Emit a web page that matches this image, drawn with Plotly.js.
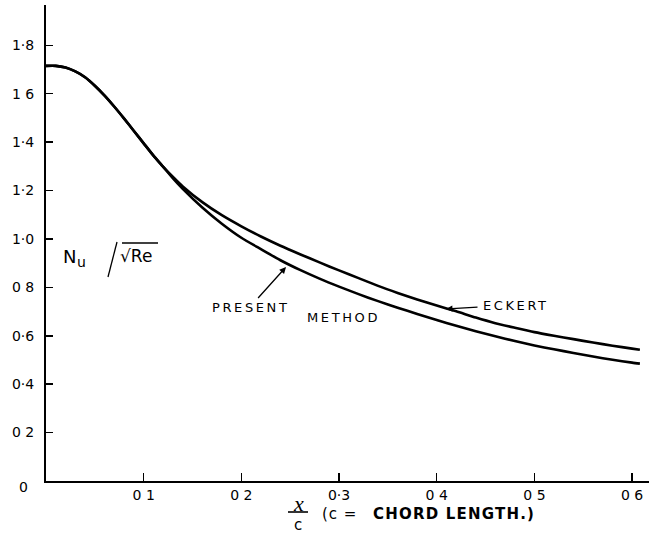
<!DOCTYPE html>
<html>
<head>
<meta charset="utf-8">
<script src="https://cdn.plot.ly/plotly-3.0.1.min.js"></script>
<style>html,body{margin:0;padding:0;background:#fff;}#chart{width:649px;height:538px;}</style>
</head>
<body>
<div id="chart"></div>
<script>
// x / c positions
const xShared = [0.00, 0.01, 0.02, 0.03, 0.04, 0.05, 0.06, 0.07, 0.08, 0.09, 0.10, 0.11, 0.12];
const yShared = [1.715, 1.715, 1.708, 1.692, 1.668, 1.633, 1.592, 1.546, 1.497, 1.446, 1.395, 1.344, 1.298];

const xTail = [0.13, 0.14, 0.16, 0.18, 0.20, 0.22, 0.24, 0.26, 0.28, 0.30, 0.32, 0.34, 0.36, 0.38, 0.40, 0.42, 0.44, 0.46, 0.48, 0.50, 0.52, 0.54, 0.56, 0.58, 0.60, 0.608];
const eckertTail = [1.256, 1.217, 1.152, 1.098, 1.052, 1.010, 0.972, 0.937, 0.903, 0.870, 0.838, 0.806, 0.777, 0.750, 0.725, 0.701, 0.675, 0.652, 0.633, 0.615, 0.600, 0.586, 0.572, 0.559, 0.547, 0.542];
const presentTail = [1.250, 1.207, 1.130, 1.063, 1.005, 0.958, 0.912, 0.872, 0.836, 0.803, 0.772, 0.743, 0.716, 0.690, 0.665, 0.641, 0.619, 0.598, 0.578, 0.560, 0.544, 0.529, 0.514, 0.501, 0.489, 0.485];

const xTickVals = [0.1, 0.2, 0.3, 0.4, 0.5, 0.6];
const xTickText = ["0 1", "0 2", "0·3", "0 4", "0 5", "0 6"];
const yTickVals = [0.2, 0.4, 0.6, 0.8, 1.0, 1.2, 1.4, 1.6, 1.8];
const yTickText = ["0 2", "0·4", "0·6", "0 8", "1·0", "1·2", "1·4", "1 6", "1·8"];

const xEckert = xShared.concat(xTail);
const yEckert = yShared.concat(eckertTail);
const xPresent = xShared.concat(xTail);
const yPresent = yShared.concat(presentTail);

// layout geometry (pixels)
const W = 649, H = 538, ML = 46, MR = 0, MT = 5, MB = 57;
const PW = W - ML - MR, PH = H - MT - MB;
const px = v => (v - ML) / PW;
const py = v => (H - MB - v) / PH;

const lineStyle = {color: "#000", width: 2.6, shape: "spline", smoothing: 0.6};
const traces = [
  {x: xEckert, y: yEckert, mode: "lines", line: lineStyle, name: "Eckert", hoverinfo: "skip"},
  {x: xPresent, y: yPresent, mode: "lines", line: lineStyle, name: "Present method", hoverinfo: "skip"}
];

const labFont = {family: "DejaVu Sans", size: 13, color: "#000"};
const ann = (x, y, text, font, extra) => Object.assign({xref: "paper", yref: "paper", x: px(x), y: py(y), text: text, showarrow: false, font: font, xanchor: "center", yanchor: "middle"}, extra || {});

const annotations = [
  ann(23, 487, "0", {family: "DejaVu Sans", size: 14, color: "#000"}),
  // labels with arrows (x,y = arrow head; ax,ay = text centre)
  {xref: "paper", yref: "paper", x: px(286), y: py(267), ax: px(250), ay: py(307), axref: "paper", ayref: "paper",
   text: "<span style='letter-spacing:2.6px'>PRESENT</span>", font: labFont,
   showarrow: true, arrowhead: 2, arrowsize: 1, arrowwidth: 1.3, arrowcolor: "#000"},
  ann(343, 317, "<span style='letter-spacing:2.6px'>METHOD</span>", labFont),
  {xref: "paper", yref: "paper", x: px(446), y: py(309), ax: px(516), ay: py(305), axref: "paper", ayref: "paper",
   text: "<span style='letter-spacing:2.6px'>ECKERT</span>", font: labFont,
   showarrow: true, arrowhead: 2, arrowsize: 1, arrowwidth: 1.3, arrowcolor: "#000", startstandoff: 4},
  // y label
  ann(69, 256, "N", {family: "DejaVu Sans", size: 18, color: "#000"}),
  ann(81, 262, "u", {family: "DejaVu Sans", size: 14, color: "#000"}),
  ann(136, 256, "√Re", {family: "DejaVu Sans", size: 17, color: "#000"}),
  // x label
  ann(298, 503, "x", {family: "Liberation Serif", size: 22, color: "#000", style: "italic"}),
  ann(298, 525, "c", {family: "DejaVu Sans", size: 15, color: "#000"}),
  ann(320, 514, "<span style='letter-spacing:1px'>(c =</span>", {family: "DejaVu Sans", size: 15, color: "#000"}, {xanchor: "left"}),
  ann(537, 514, "<span style='letter-spacing:1.2px'>CHORD LENGTH.)</span>", {family: "DejaVu Sans", size: 15, color: "#000", weight: "bold"}, {xanchor: "right"})
];

const shapes = [
  {type: "line", xref: "paper", yref: "paper", x0: px(108), y0: py(277), x1: px(117), y1: py(242), line: {color: "#000", width: 1.3}},
  {type: "line", xref: "paper", yref: "paper", x0: px(122), y0: py(243), x1: px(158), y1: py(243), line: {color: "#000", width: 1.6}},
  {type: "line", xref: "paper", yref: "paper", x0: px(288), y0: py(512), x1: px(308), y1: py(512), line: {color: "#000", width: 1.6}}
];

const layout = {
  width: W, height: H,
  margin: {l: ML, r: MR, t: MT, b: MB, pad: 0},
  paper_bgcolor: "#fff", plot_bgcolor: "#fff",
  showlegend: false,
  font: {family: "DejaVu Sans", size: 14, color: "#000"},
  xaxis: {
    range: [0, PW / 976.8], showgrid: false, zeroline: false,
    showline: true, linecolor: "#000", linewidth: 2,
    ticks: "inside", ticklen: 8, tickwidth: 1.5, tickcolor: "#000",
    tickvals: xTickVals, ticktext: xTickText,
    tickfont: {family: "DejaVu Sans", size: 14, color: "#000"},
    fixedrange: true
  },
  yaxis: {
    range: [0, PH / 242.06], showgrid: false, zeroline: false,
    showline: true, linecolor: "#000", linewidth: 2,
    ticks: "inside", ticklen: 7, tickwidth: 1.5, tickcolor: "#000",
    tickvals: yTickVals, ticktext: yTickText,
    tickfont: {family: "DejaVu Sans", size: 14, color: "#000"},
    ticklabelstandoff: 7,
    fixedrange: true
  },
  annotations: annotations,
  shapes: shapes
};

Plotly.newPlot("chart", traces, layout, {displayModeBar: false, staticPlot: true});
</script>
</body>
</html>
